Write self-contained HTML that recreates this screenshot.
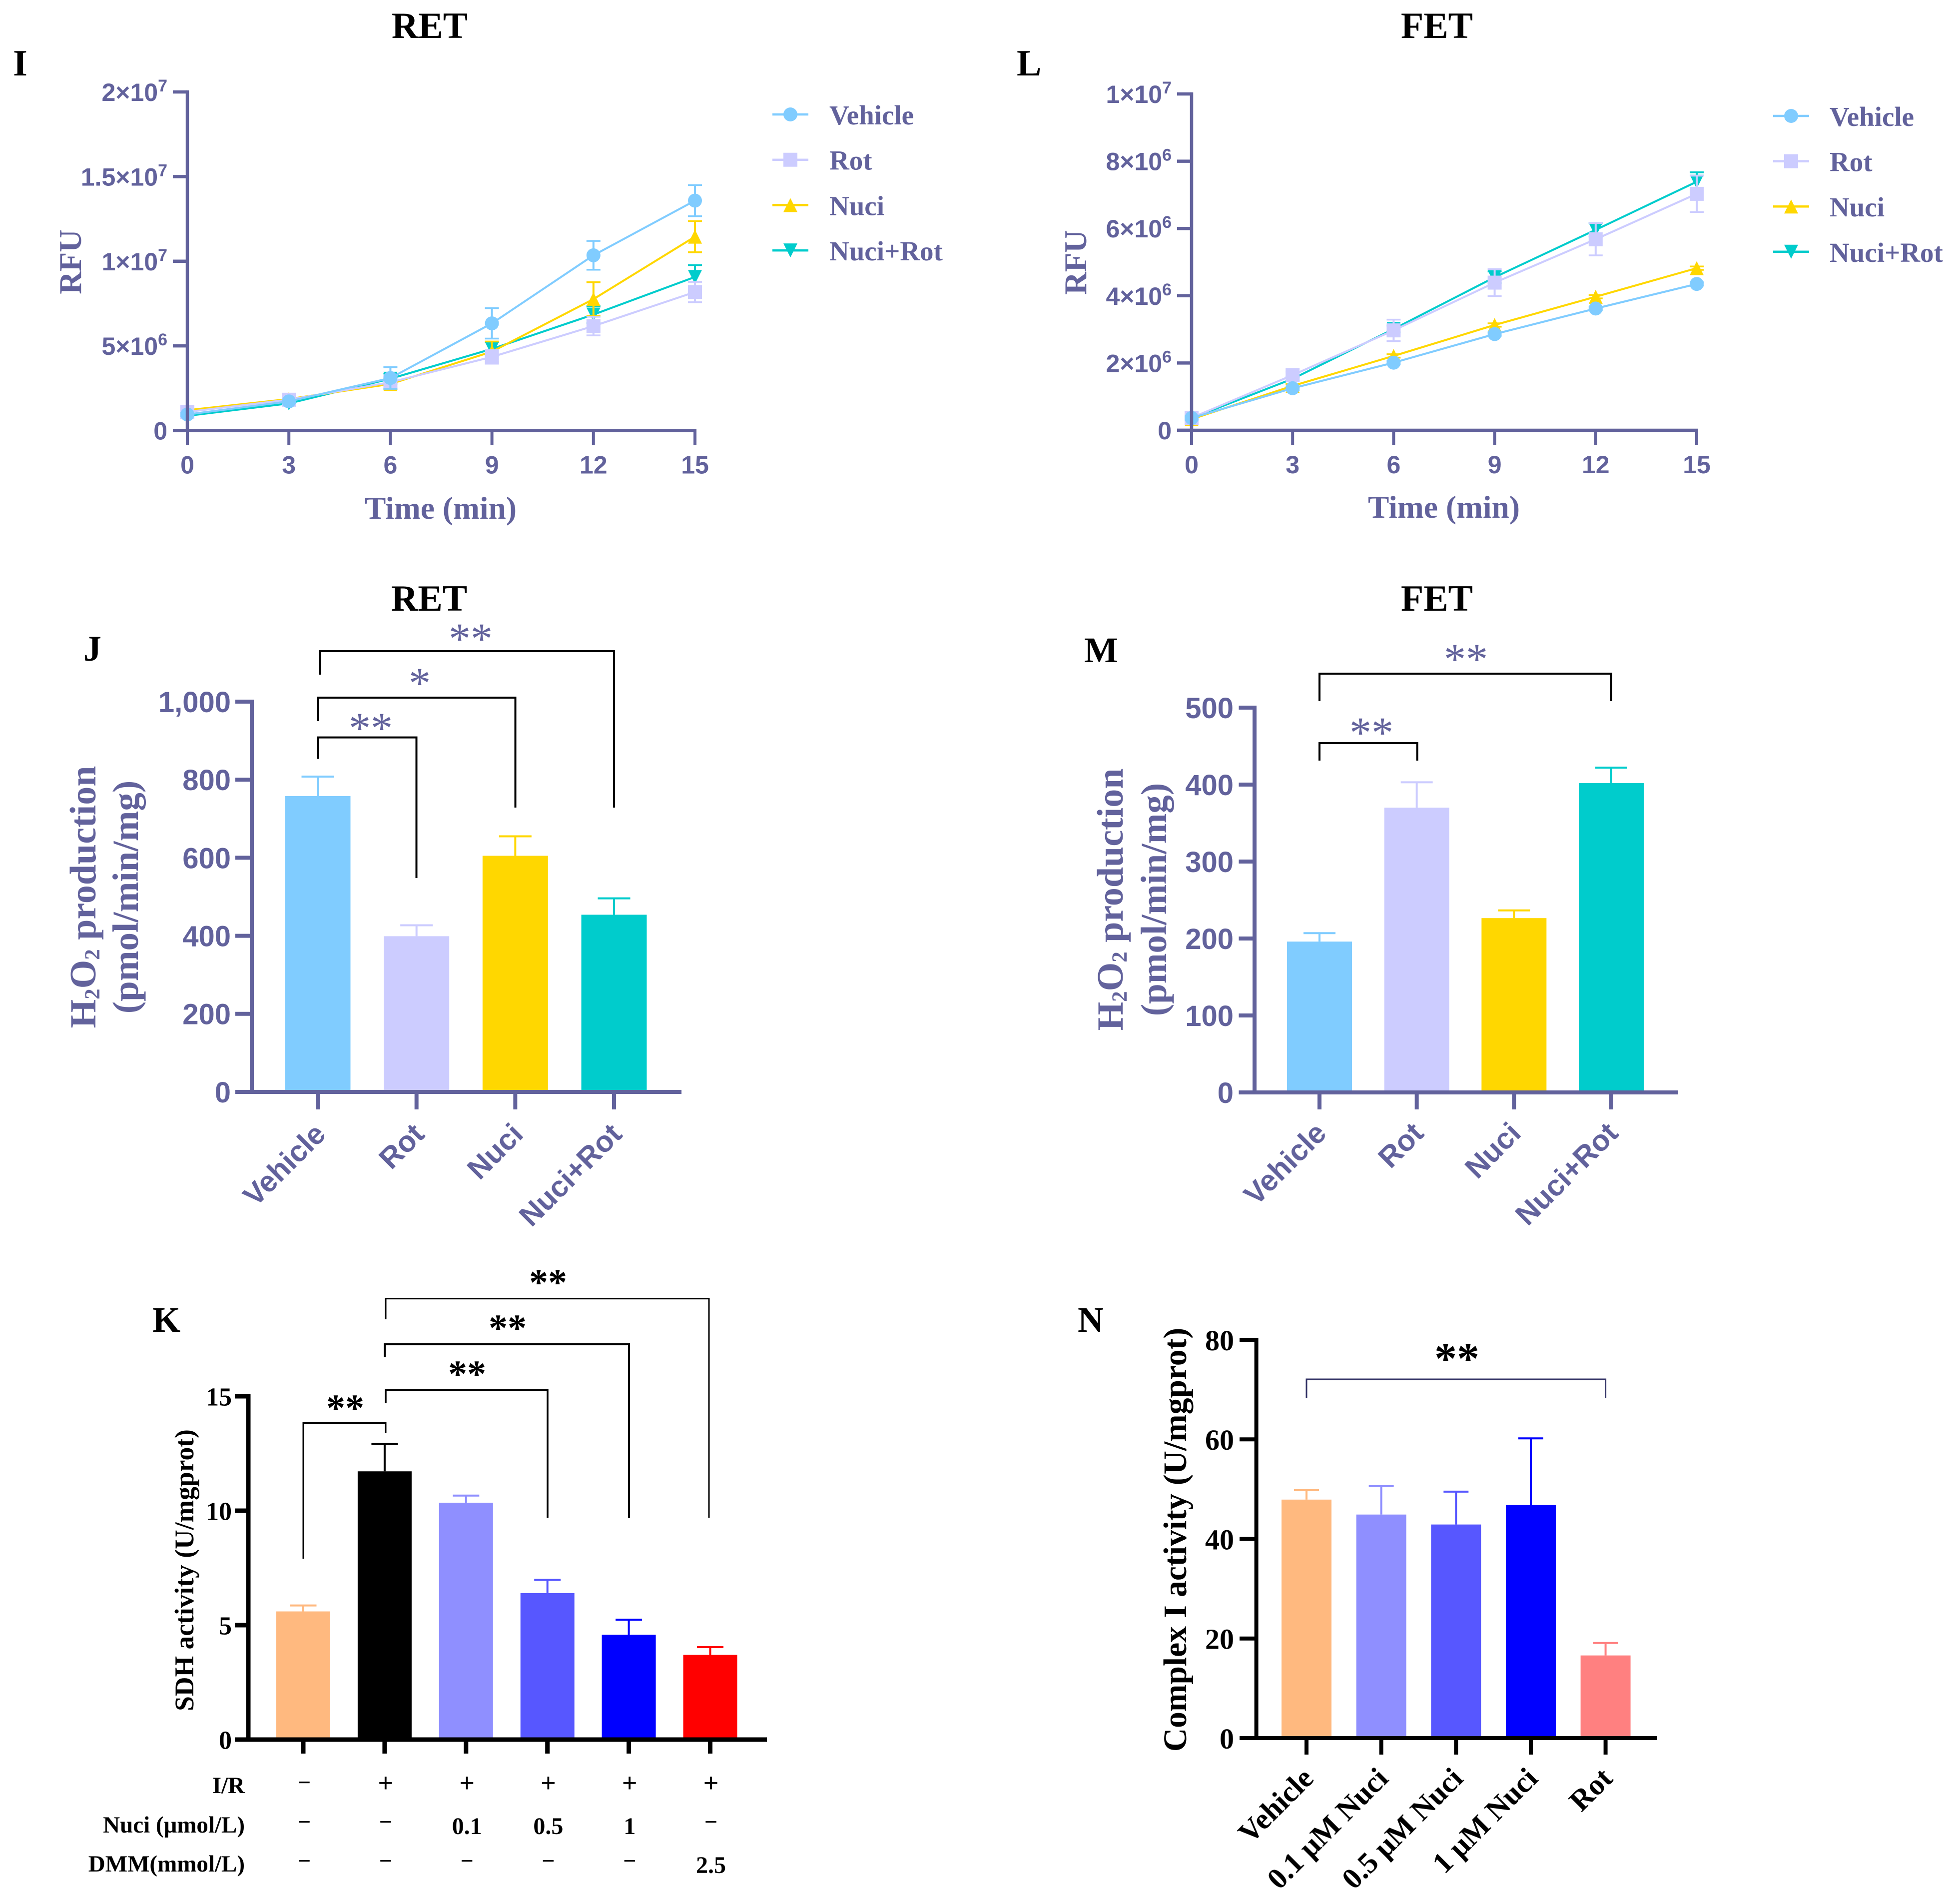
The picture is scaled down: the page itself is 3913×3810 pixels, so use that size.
<!DOCTYPE html>
<html lang="en">
<head>
<meta charset="utf-8">
<title>RET / FET multi-panel chart</title>
<style>
html,body{margin:0;padding:0;background:#fff;}
svg{display:block;}
.serif{font-family:"Liberation Serif",serif;font-weight:700;}
.serif-light{font-family:"Liberation Serif",serif;font-weight:400;}
.sans{font-family:"Liberation Sans",sans-serif;font-weight:700;}
.p{fill:#62629c;}
.k{fill:#000;}
</style>
</head>
<body>
<svg id="fig" xmlns="http://www.w3.org/2000/svg" width="3913" height="3810" viewBox="0 0 3913 3810">
  <rect x="0" y="0" width="3913" height="3810" fill="#fff"/>
  <text class="serif k" x="860" y="76" font-size="74" text-anchor="middle">RET</text>
  <text class="serif k" x="2876" y="76" font-size="74" text-anchor="middle">FET</text>
  <text class="serif k" x="859" y="1222" font-size="74" text-anchor="middle">RET</text>
  <text class="serif k" x="2876" y="1222" font-size="74" text-anchor="middle">FET</text>
  <text class="serif k" x="26" y="151" font-size="74">I</text>
  <text class="serif k" x="2035" y="151" font-size="74">L</text>
  <text class="serif k" x="167" y="1322" font-size="72">J</text>
  <text class="serif k" x="2170" y="1325" font-size="72">M</text>
  <text class="serif k" x="305" y="2665" font-size="72">K</text>
  <text class="serif k" x="2157" y="2665" font-size="72">N</text>

  <text class="serif p" x="882" y="1038" font-size="63.5" text-anchor="middle">Time (min)</text>
  <text class="serif p" x="2890" y="1036" font-size="63.5" text-anchor="middle">Time (min)</text>
  <text class="serif p" transform="translate(162 524) rotate(-90)" font-size="63" text-anchor="middle">RFU</text>
  <text class="serif p" transform="translate(2174 525) rotate(-90)" font-size="63" text-anchor="middle">RFU</text>

  <text class="serif p" transform="translate(191 1795) rotate(-90)" font-size="74" text-anchor="middle">H<tspan font-size="43" dy="8">2</tspan><tspan dy="-8">O</tspan><tspan font-size="43" dy="8">2</tspan><tspan dy="-8"> production</tspan></text>
  <text class="serif p" transform="translate(276 1795) rotate(-90)" font-size="73" text-anchor="middle">(pmol/min/mg)</text>
  <text class="serif p" transform="translate(2247 1800) rotate(-90)" font-size="74" text-anchor="middle">H<tspan font-size="43" dy="8">2</tspan><tspan dy="-8">O</tspan><tspan font-size="43" dy="8">2</tspan><tspan dy="-8"> production</tspan></text>
  <text class="serif p" transform="translate(2334 1800) rotate(-90)" font-size="73" text-anchor="middle">(pmol/min/mg)</text>

  <text class="serif k" transform="translate(387 3142) rotate(-90)" font-size="53.5" text-anchor="middle">SDH activity (U/mgprot)</text>
  <text class="serif k" transform="translate(2374 3081) rotate(-90)" font-size="65.5" text-anchor="middle">Complex I activity (U/mgprot)</text>

  <text class="serif k" x="490" y="3588" font-size="47" text-anchor="end">I/R</text>
  <text class="serif k" x="490" y="3667" font-size="47" text-anchor="end">Nuci (μmol/L)</text>
  <text class="serif k" x="490" y="3745" font-size="47" text-anchor="end">DMM(mmol/L)</text>
</svg>

<script>
// ---------- Panel I (RET time course) ----------
const timeMin = [0, 3, 6, 9, 12, 15];
const timeTickLabels = ["0", "3", "6", "9", "12", "15"];
const retVehicle = [0.95e6, 1.72e6, 3.1e6, 6.33e6, 10.35e6, 13.58e6];
const retVehicleErr = [0.1e6, 0.1e6, 0.64e6, 0.9e6, 0.85e6, 0.92e6];
const retRot = [1.1e6, 1.82e6, 2.85e6, 4.35e6, 6.17e6, 8.18e6];
const retRotErr = [0.25e6, 0.25e6, 0.35e6, 0.4e6, 0.55e6, 0.6e6];
const retNuci = [1.2e6, 1.86e6, 2.75e6, 4.66e6, 7.76e6, 11.45e6];
const retNuciErr = [0.1e6, 0.1e6, 0.3e6, 0.6e6, 1.0e6, 0.92e6];
const retNuciRot = [0.87e6, 1.6e6, 3.06e6, 4.82e6, 6.85e6, 9.07e6];
const retNuciRotErr = [0.1e6, 0.1e6, 0.3e6, 0.4e6, 0.5e6, 0.7e6];
const retYTicks = [0, 5e6, 1e7, 1.5e7, 2e7];
const retYTickLabels = ["0", "5×10", "1×10", "1.5×10", "2×10"];
const retYTickExps = ["", "6", "7", "7", "7"];

// ---------- Panel L (FET time course) ----------
const fetVehicle = [0.365e6, 1.25e6, 2.01e6, 2.86e6, 3.62e6, 4.35e6];
const fetVehicleErr = [0.05e6, 0.05e6, 0.05e6, 0.05e6, 0.05e6, 0.05e6];
const fetRot = [0.37e6, 1.64e6, 2.97e6, 4.39e6, 5.68e6, 7.03e6];
const fetRotErr = [0.05e6, 0.1e6, 0.32e6, 0.4e6, 0.48e6, 0.54e6];
const fetNuci = [0.33e6, 1.32e6, 2.21e6, 3.13e6, 3.97e6, 4.82e6];
const fetNuciErr = [0.05e6, 0.05e6, 0.05e6, 0.05e6, 0.05e6, 0.05e6];
const fetNuciRot = [0.36e6, 1.53e6, 3.01e6, 4.55e6, 5.96e6, 7.39e6];
const fetNuciRotErr = [0.05e6, 0.05e6, 0.1e6, 0.17e6, 0.2e6, 0.28e6];
const fetYTicks = [0, 2e6, 4e6, 6e6, 8e6, 1e7];
const fetYTickLabels = ["0", "2×10", "4×10", "6×10", "8×10", "1×10"];
const fetYTickExps = ["", "6", "6", "6", "6", "7"];

const seriesNames = ["Vehicle", "Rot", "Nuci", "Nuci+Rot"];

// ---------- Panel J ----------
const jCategories = ["Vehicle", "Rot", "Nuci", "Nuci+Rot"];
const jValues = [758, 399, 605, 454];
const jErrors = [50, 28, 50, 42];
const jYTicks = [0, 200, 400, 600, 800, 1000];
const jYTickLabels = ["0", "200", "400", "600", "800", "1,000"];

// ---------- Panel M ----------
const mCategories = ["Vehicle", "Rot", "Nuci", "Nuci+Rot"];
const mValues = [196, 370, 226.5, 402];
const mErrors = [11, 33, 10, 20];
const mYTicks = [0, 100, 200, 300, 400, 500];
const mYTickLabels = ["0", "100", "200", "300", "400", "500"];

// ---------- Panel K ----------
const kCategories = ["Sham", "IR", "Nuci 0.1", "Nuci 0.5", "Nuci 1", "DMM 2.5"];
const kValues = [5.6, 11.72, 10.35, 6.4, 4.58, 3.7];
const kErrors = [0.26, 1.2, 0.31, 0.58, 0.66, 0.34];
const kYTicks = [0, 5, 10, 15];
const kYTickLabels = ["0", "5", "10", "15"];
const kRowIR = ["−", "+", "+", "+", "+", "+"];
const kRowNuci = ["−", "−", "0.1", "0.5", "1", "−"];
const kRowDMM = ["−", "−", "−", "−", "−", "2.5"];

// ---------- Panel N ----------
const nCategories = ["Vehicle", "0.1 μM Nuci", "0.5 μM Nuci", "1 μM Nuci", "Rot"];
const nValues = [47.9, 44.9, 42.9, 46.8, 16.6];
const nErrors = [1.9, 5.7, 6.6, 13.4, 2.5];
const nYTicks = [0, 20, 40, 60, 80];
const nYTickLabels = ["0", "20", "40", "60", "80"];

const PURPLE = "#62629c";
const C_VEH = "#80ccff", C_ROT = "#ccccff", C_NUCI = "#ffd700", C_NR = "#00cccc";
const SVGNS = "http://www.w3.org/2000/svg";
const fig = document.getElementById("fig");

function el(parent, tag, attrs) {
  const e = document.createElementNS(SVGNS, tag);
  for (const k in attrs) e.setAttribute(k, attrs[k]);
  parent.appendChild(e);
  return e;
}
function line(p, x1, y1, x2, y2, color, w) {
  return el(p, "line", { x1: x1, y1: y1, x2: x2, y2: y2, stroke: color, "stroke-width": w });
}
function label(p, x, y, s, cls, size, anchor) {
  const t = el(p, "text", { x: x, y: y, class: cls, "font-size": size, "text-anchor": anchor });
  t.textContent = s;
  return t;
}
function linScale(d0, d1, r0, r1) {
  return function (v) { return r0 + (v - d0) / (d1 - d0) * (r1 - r0); };
}
function marker(p, kind, x, y, color) {
  if (kind === "circle") return el(p, "circle", { cx: x, cy: y, r: 14, fill: color });
  if (kind === "square") return el(p, "rect", { x: x - 14, y: y - 14, width: 28, height: 28, fill: color });
  if (kind === "up") return el(p, "polygon", { points: (x) + "," + (y - 14) + " " + (x - 14) + "," + (y + 14) + " " + (x + 14) + "," + (y + 14), fill: color });
  return el(p, "polygon", { points: (x) + "," + (y + 14) + " " + (x - 14) + "," + (y - 14) + " " + (x + 14) + "," + (y - 14), fill: color });
}

function yAxis(g, sy, ticks, labels, exps, o) {
  const axis = line(g, o.x, sy(ticks[ticks.length - 1]) - o.w / 2, o.x, o.baseY + o.w / 2, o.color, o.w);
  
  
  ticks.forEach(function (t, i) {
    const tk = line(g, o.tickX, sy(t), o.x, sy(t), o.color, o.w);
    
    
    const lab = label(g, o.labelX, sy(t) + o.fs * 0.36, labels[i], o.cls, o.fs, "end");
    
    
    if (exps && exps[i]) {
      const ts = document.createElementNS(SVGNS, "tspan");
      ts.setAttribute("font-size", o.fs * 0.68);
      ts.setAttribute("dy", -o.fs * 0.38);
      ts.textContent = exps[i];
      lab.appendChild(ts);
    }
  });
}

function lineChart(name, cfg) {
  const g = el(fig, "g", {});
  
  
  const sx = linScale(0, 15, cfg.x0, cfg.x1);
  const sy = linScale(0, cfg.yMax, cfg.y0, cfg.yTop);
  // draw back-to-front: last in list is on top
  cfg.series.forEach(function (s) {
    const sg = el(g, "g", {});
    
    
    timeMin.forEach(function (t, i) {
      const x = sx(t), hi = sy(s.values[i] + s.errs[i]), lo = sy(s.values[i] - s.errs[i]);
      const eb = line(sg, x, hi, x, lo, s.color, 4);
      
      
      const c1 = line(sg, x - 14, hi, x + 14, hi, s.color, 3.5);
      
      
      const c2 = line(sg, x - 14, lo, x + 14, lo, s.color, 3.5);
      
      
    });
    const pl = el(sg, "polyline", {
      points: timeMin.map(function (t, i) { return sx(t) + "," + sy(s.values[i]); }).join(" "),
      fill: "none", stroke: s.color, "stroke-width": 4
    });
    
    
    timeMin.forEach(function (t, i) {
      const m = marker(sg, s.kind, sx(t), sy(s.values[i]), s.color);
      
      
    });
  });
  yAxis(g, sy, cfg.ticks, cfg.tickLabels, cfg.tickExps, {
    x: cfg.x0, baseY: cfg.y0, tickX: cfg.x0 - 29, labelX: cfg.x0 - 40, color: PURPLE, w: 6.5, fs: 50, cls: "sans p"
  });
  const base = line(g, cfg.x0 - 29, cfg.y0, cfg.x1 + 3, cfg.y0, PURPLE, 6.5);
  
  
  timeMin.forEach(function (t, i) {
    const tk = line(g, sx(t), cfg.y0, sx(t), cfg.y0 + 29, PURPLE, 6);
    
    
    const lb = label(g, sx(t), cfg.y0 + 86, timeTickLabels[i], "sans p", 50, "middle");
    
    
  });
  // legend
  const lg = el(g, "g", {});
  
  
  [C_VEH, C_ROT, C_NUCI, C_NR].forEach(function (c, i) {
    const y = cfg.legendY + i * cfg.legendStep;
    const ll = line(lg, cfg.legendX, y, cfg.legendX + 72, y, c, 4.5);
    
    
    const mk = marker(lg, ["circle", "square", "up", "down"][i], cfg.legendX + 36, y, c);
    
    
    const tx = label(lg, cfg.legendTextX, y + 20, seriesNames[i], "serif p", 55, "start");
    
    
  });
}

function barChart(name, cfg) {
  const g = el(fig, "g", {});
  
  
  const n = cfg.values.length;
  const band = linScale(0, n - 1, cfg.xFirst, cfg.xLast);
  const sy = linScale(0, cfg.yMax, cfg.y0, cfg.yTop);
  cfg.values.forEach(function (v, i) {
    const x = band(i), top = sy(v), hi = sy(v + cfg.errors[i]);
    const eb = line(g, x, hi, x, top, cfg.colors[i], 4);
    
    
    const cap = line(g, x - cfg.capW / 2, hi, x + cfg.capW / 2, hi, cfg.colors[i], 4);
    
    
    const bar = el(g, "rect", { x: x - cfg.barW / 2, y: top, width: cfg.barW, height: cfg.y0 - top, fill: cfg.colors[i] });
    
    
  });
  yAxis(g, sy, cfg.ticks, cfg.tickLabels, null, {
    x: cfg.xAxis, baseY: cfg.y0, tickX: cfg.tickX, labelX: cfg.labelX, color: cfg.axisColor, w: cfg.axisW, fs: cfg.tickFs, cls: cfg.tickCls
  });
  const base = line(g, cfg.tickX, cfg.y0, cfg.baseEnd, cfg.y0, cfg.axisColor, cfg.axisW);
  
  
  cfg.values.forEach(function (v, i) {
    const x = band(i);
    const tk = line(g, x, cfg.y0, x, cfg.y0 + cfg.tickLen, cfg.axisColor, cfg.axisW);
    
    
    if (cfg.catLabels) {
      const ax = x + cfg.catDx, ay = cfg.y0 + cfg.catDy;
      const t = el(g, "text", { transform: "translate(" + ax + " " + ay + ") rotate(-45)", class: cfg.catCls, "font-size": cfg.catFs, "text-anchor": "end" });
      t.textContent = cfg.catLabels[i];
      
      
    }
  });
  return g;
}

function bracket(xa, ya, yTop, xb, yb, color, w) {
  const b = el(fig, "polyline", {
    points: xa + "," + ya + " " + xa + "," + yTop + " " + xb + "," + yTop + " " + xb + "," + yb,
    fill: "none", stroke: color, "stroke-width": w
  });
  
  
}
function stars(cx, cy, s, size, cls) {
  const t = label(fig, cx, cy + size * 0.47, s, cls, size, "middle");
  
  
}

lineChart("chart-ret-time-course", {
  x0: 375, x1: 1391, y0: 861.5, yTop: 184, yMax: 2e7,
  ticks: retYTicks, tickLabels: retYTickLabels, tickExps: retYTickExps,
  legendX: 1546, legendTextX: 1660, legendY: 229, legendStep: 90.7,
  series: [
    { name: "nuci-rot", color: C_NR, kind: "down", values: retNuciRot, errs: retNuciRotErr },
    { name: "nuci", color: C_NUCI, kind: "up", values: retNuci, errs: retNuciErr },
    { name: "rot", color: C_ROT, kind: "square", values: retRot, errs: retRotErr },
    { name: "vehicle", color: C_VEH, kind: "circle", values: retVehicle, errs: retVehicleErr }
  ]
});
lineChart("chart-fet-time-course", {
  x0: 2385, x1: 3396, y0: 861, yTop: 188, yMax: 1e7,
  ticks: fetYTicks, tickLabels: fetYTickLabels, tickExps: fetYTickExps,
  legendX: 3549, legendTextX: 3662, legendY: 232, legendStep: 90.6,
  series: [
    { name: "nuci-rot", color: C_NR, kind: "down", values: fetNuciRot, errs: fetNuciRotErr },
    { name: "nuci", color: C_NUCI, kind: "up", values: fetNuci, errs: fetNuciErr },
    { name: "rot", color: C_ROT, kind: "square", values: fetRot, errs: fetRotErr },
    { name: "vehicle", color: C_VEH, kind: "circle", values: fetVehicle, errs: fetVehicleErr }
  ]
});

barChart("chart-h2o2-ret", {
  values: jValues, errors: jErrors, colors: [C_VEH, C_ROT, C_NUCI, C_NR],
  xFirst: 636, xLast: 1229, barW: 131, capW: 65, y0: 2185, yTop: 1404, yMax: 1000,
  ticks: jYTicks, tickLabels: jYTickLabels, xAxis: 504, tickX: 471, labelX: 462,
  axisColor: PURPLE, axisW: 8, baseEnd: 1364, tickLen: 35, tickFs: 58, tickCls: "sans p",
  catLabels: jCategories, catDx: 19, catDy: 88, catFs: 59, catCls: "sans p"
});
barChart("chart-h2o2-fet", {
  values: mValues, errors: mErrors, colors: [C_VEH, C_ROT, C_NUCI, C_NR],
  xFirst: 2641, xLast: 3225, barW: 130, capW: 64, y0: 2186, yTop: 1416, yMax: 500,
  ticks: mYTicks, tickLabels: mYTickLabels, xAxis: 2511, tickX: 2479.5, labelX: 2469,
  axisColor: PURPLE, axisW: 8, baseEnd: 3359, tickLen: 34, tickFs: 58, tickCls: "sans p",
  catLabels: mCategories, catDx: 17, catDy: 85, catFs: 59, catCls: "sans p"
});
barChart("chart-sdh-activity", {
  values: kValues, errors: kErrors, colors: ["#ffb97f", "#000000", "#8f8fff", "#5757ff", "#0000ff", "#ff0000"],
  xFirst: 607, xLast: 1421.5, barW: 108, capW: 53, y0: 3481, yTop: 2794, yMax: 15,
  ticks: kYTicks, tickLabels: kYTickLabels, xAxis: 497, tickX: 470, labelX: 464,
  axisColor: "#000", axisW: 9, baseEnd: 1535, tickLen: 28, tickFs: 52, tickCls: "serif k"
});
barChart("chart-complex-i-activity", {
  values: nValues, errors: nErrors, colors: ["#ffb97f", "#8f8fff", "#5757ff", "#0000ff", "#ff8080"],
  xFirst: 2615, xLast: 3213.6, barW: 100, capW: 50, y0: 3478, yTop: 2681, yMax: 80,
  ticks: nYTicks, tickLabels: nYTickLabels, xAxis: 2514.6, tickX: 2481, labelX: 2470,
  axisColor: "#000", axisW: 8, baseEnd: 3317, tickLen: 33, tickFs: 58, tickCls: "serif k",
  catLabels: nCategories, catDx: 17, catDy: 84, catFs: 59.5, catCls: "serif k"
});

// Treatment table under panel K
const kColX = linScale(0, 5, 609, 1423);
[[kRowIR, 3573], [kRowNuci, 3652], [kRowDMM, 3730]].forEach(function (row) {
  row[0].forEach(function (s, i) {
    const isMinus = (s === "−");
    const isPlus = (s === "+");
    const y = isMinus ? row[1] + 9 : (isPlus ? row[1] + 13 : row[1] + 18);
    const t = label(fig, kColX(i), y, s, "serif k", isMinus ? 46 : (isPlus ? 54 : 48), "middle");
    
    
  });
});

// Significance annotations
bracket(636, 1518.6, 1475.6, 833.5, 1757, "#000", 4);
bracket(636, 1443, 1396, 1031.5, 1616, "#000", 4);
bracket(641, 1350, 1303, 1229, 1616, "#000", 4);
stars(742, 1445, "**", 88, "serif-light p");
stars(840, 1355, "*", 88, "serif-light p");
stars(942, 1266, "**", 88, "serif-light p");

bracket(2641, 1522, 1487, 2836.6, 1522, "#000", 4);
bracket(2641, 1403, 1348, 3225, 1403, "#000", 4);
stars(2745, 1454, "**", 88, "serif-light p");
stars(2934, 1307, "**", 88, "serif-light p");

bracket(607, 3119, 2847.5, 772, 2867.6, "#000", 3);
bracket(772, 2808, 2781.5, 1096, 3037, "#000", 3.5);
bracket(770, 2715.5, 2690, 1259, 3037, "#000", 4);
bracket(772, 2640, 2598.6, 1419, 3037, "#000", 3);
stars(691, 2806.6, "**", 76, "serif k");
stars(935, 2739, "**", 76, "serif k");
stars(1016, 2647, "**", 76, "serif k");
stars(1097, 2556, "**", 76, "serif k");

bracket(2615, 2798, 2760, 3213.6, 2798, "#333366", 3);
stars(2916, 2706, "**", 90, "serif k");
</script>
</body>
</html>
